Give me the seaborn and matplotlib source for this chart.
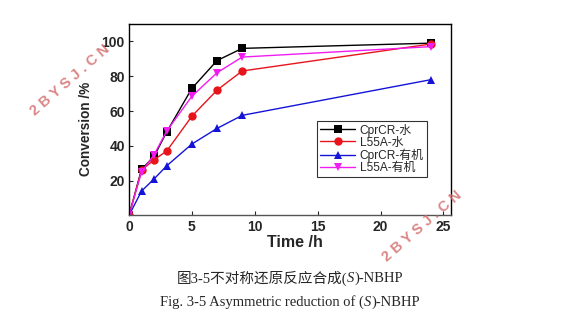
import matplotlib
matplotlib.use("Agg")
import matplotlib.pyplot as plt
import seaborn as sns
import pandas as pd

time_h = [0, 1, 2, 3, 5, 7, 9, 24]
cprcr_water = [0, 26.5, 34, 48, 73, 89, 96, 99]
l55a_water = [0, 26, 32, 37, 57, 72, 83, 98.5]
cprcr_org = [0, 14, 21, 28.5, 41, 50, 57.5, 78]
l55a_org = [0, 25, 35, 48.5, 68.5, 82, 91, 97]
series_names = ["CprCR-水", "L55A-水", "CprCR-有机", "L55A-有机"]
x_ticks = [0, 5, 10, 15, 20, 25]
y_ticks = [20, 40, 60, 80, 100]

sns.set_theme(style="ticks")
plt.rcParams['font.family'] = ['Liberation Sans', 'Noto Sans CJK SC', 'DejaVu Sans']

rows = []
for name, vals in zip(series_names, [cprcr_water, l55a_water, cprcr_org, l55a_org]):
    for t, v in zip(time_h, vals):
        rows.append({"Time": t, "Conversion": v, "Series": name})
df = pd.DataFrame(rows)

fig = plt.figure(figsize=(5.8, 3.28), dpi=100)
ax = fig.add_axes([0.2224, 0.3433, 0.5552, 0.5835])

palette = {"CprCR-水": "black", "L55A-水": "#e8141c", "CprCR-有机": "#1414d8", "L55A-有机": "#f01cf0"}
markers = {"CprCR-水": "s", "L55A-水": "o", "CprCR-有机": "^", "L55A-有机": "v"}
sns.lineplot(data=df, x="Time", y="Conversion", hue="Series", style="Series",
             palette=palette, markers=markers, dashes=False, markersize=6,
             markeredgewidth=0, linewidth=1.0, ax=ax, legend=True)

ax.set_xlim(0, 25.6)
ax.set_ylim(0, 110)
ax.set_xticks(x_ticks)
ax.set_yticks(y_ticks)
ax.tick_params(direction='in', length=3, width=0.8, labelsize=10, pad=3)
for lab in ax.get_xticklabels() + ax.get_yticklabels():
    lab.set_fontweight('bold')
for s in ax.spines.values():
    s.set_linewidth(1.0)
    s.set_color('black')
ax.spines['bottom'].set_color('#555555')
ax.set_xlabel("Time /h", fontsize=11.5, fontweight='bold')
ax.set_ylabel("Conversion /%", fontsize=9.8, fontweight='bold')
ax.xaxis.set_label_coords(0.515, -0.144)
ax.yaxis.set_label_coords(-0.134, 0.451)
ax.xaxis.label.set_va('center')
ax.yaxis.label.set_va('center')

leg = ax.legend(loc='upper left', bbox_to_anchor=(0.585, 0.495), fontsize=8.6,
                frameon=True, fancybox=False, edgecolor='black', handlelength=2.9,
                borderpad=0.25, labelspacing=0.0, handletextpad=0.4, borderaxespad=0)
leg.get_frame().set_linewidth(0.8)

# caption with italic S, built from pieces
fig.canvas.draw()
renderer = fig.canvas.get_renderer()

def caption(y, pieces):
    texts = []
    total = 0
    for s, style, fam in pieces:
        t = fig.text(0, y, s, ha='left', va='center', fontsize=10.5, style=style, family=fam)
        w = t.get_window_extent(renderer).width
        texts.append((t, w))
        total += w
    x = (580 - total) / 2
    for t, w in texts:
        t.set_x(x / 580)
        x += w

serif = ['Liberation Serif', 'Noto Sans CJK SC']
caption(0.152, [("图3-5不对称还原反应合成(", 'normal', serif), ("S", 'italic', serif), (")-NBHP", 'normal', serif)])
caption(0.078, [("Fig. 3-5 Asymmetric reduction of (", 'normal', serif), ("S", 'italic', serif), (")-NBHP", 'normal', serif)])

wm = dict(color='#d47070', fontsize=10.5, fontweight='bold', rotation=41,
          ha='center', va='center', alpha=0.85, family=['Liberation Sans'])
fig.text(70/580, 1-80/328, "2 B Y S J . C N", **wm)
fig.text(422/580, 1-226/328, "2 B Y S J . C N", **wm)

fig.savefig("out.png", dpi=100)
